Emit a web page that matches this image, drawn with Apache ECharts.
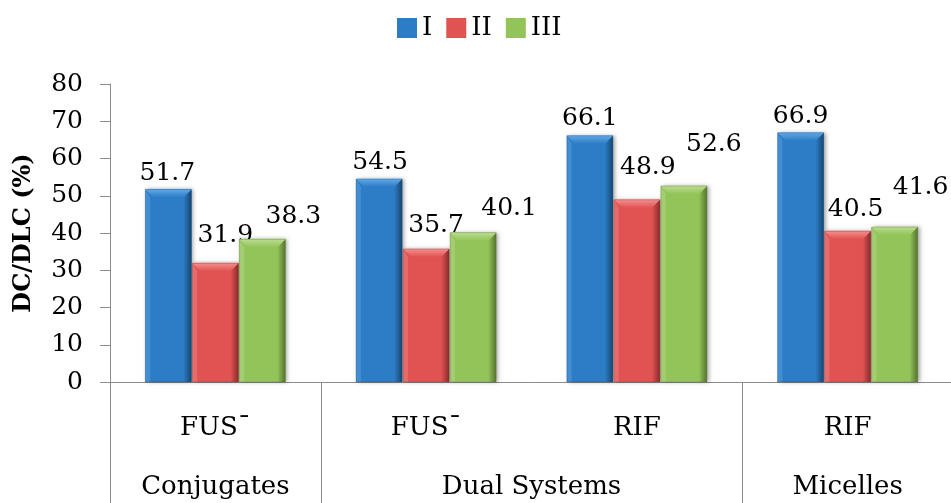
<!DOCTYPE html>
<html>
<head>
<meta charset="utf-8">
<title>DC/DLC</title>
<script src="https://cdn.jsdelivr.net/npm/echarts@6/dist/echarts.min.js"></script>
<style>
  html, body { margin: 0; padding: 0; background: #fff; }
  #chart { width: 951px; height: 503px; }
</style>
</head>
<body>
<div id="chart"></div>
<script>
// Drug content / loading per formulation
const categories = ['FUS\u00AF', 'FUS\u00AF', 'RIF', 'RIF'];
const groupNames = ['Conjugates', 'Dual Systems', 'Micelles'];
const groupSpans = [1, 2, 1];
const seriesNames = ['I', 'II', 'III'];
const valuesI = [51.7, 54.5, 66.1, 66.9];
const valuesII = [31.9, 35.7, 48.9, 40.5];
const valuesIII = [38.3, 40.1, 52.6, 41.6];
const yTicks = [0, 10, 20, 30, 40, 50, 60, 70, 80];

const FONT = 'DejaVu Serif';
const seriesValues = [valuesI, valuesII, valuesIII];

// face colours of the bevelled bars: [base, light, dark]
const palette = [
  ['#2d7cc6', '#62a9e6', '#17476f'],
  ['#e05352', '#f2908f', '#8a2c2c'],
  ['#93c45a', '#bcdc92', '#56732f']
];

// value labels are nudged off the bar tops (dx, dy of the text centre)
const labelNudge = [
  [[-1, -16], [1, -16], [0, -17], [0, -16]],
  [[10, -28], [10, -24], [11, -32], [8, -22]],
  [[31, -23], [36, -24], [30, -42], [26, -40]]
];

// group boundaries and centres along the category axis
const groupEdges = [0];
groupSpans.forEach(s => groupEdges.push(groupEdges[groupEdges.length - 1] + s));
const groupCenters = groupSpans.map((s, i) => groupEdges[i] + s / 2);

function bevelBar(seriesIdx) {
  const [base, light, dark] = palette[seriesIdx];
  return function (params, api) {
    const ci = api.value(0);
    const v = api.value(1);
    const band = api.size([1, 0])[0];
    const step = band * 0.223;
    const top = api.coord([ci, v]);
    const bottom = api.coord([ci, 0]);
    const cx = top[0] + (seriesIdx - 1) * step;
    const w = step - 1;
    const x0 = cx - w / 2, x1 = cx + w / 2;
    const y0 = top[1], y1 = bottom[1];
    const b = 8;
    const nudge = labelNudge[seriesIdx][params.dataIndex];
    return {
      type: 'group',
      children: [
        {
          type: 'rect',
          shape: { x: x0, y: y0, width: w, height: y1 - y0 },
          style: {
            fill: base,
            shadowColor: 'rgba(0,0,0,0.35)', shadowBlur: 4, shadowOffsetX: 2, shadowOffsetY: 0
          }
        },
        {
          type: 'polygon',
          shape: { points: [[x0, y0], [x0 + b * 0.6, y0 + b], [x0 + b * 0.6, y1], [x0, y1]] },
          style: { fill: light, opacity: 0.4 }
        },
        {
          type: 'polygon',
          shape: { points: [[x1, y0], [x1, y1], [x1 - b, y1], [x1 - b, y0 + b]] },
          style: {
            fill: new echarts.graphic.LinearGradient(0, 0, 1, 0, [
              { offset: 0, color: base }, { offset: 1, color: dark }
            ])
          }
        },
        {
          type: 'polygon',
          shape: { points: [[x0, y0], [x1, y0], [x1 - b, y0 + b], [x0 + b, y0 + b]] },
          style: {
            fill: new echarts.graphic.LinearGradient(0, 0, 0, 1, [
              { offset: 0, color: light }, { offset: 1, color: base }
            ])
          }
        },
        {
          type: 'rect',
          shape: { x: x0, y: y0, width: w, height: y1 - y0 },
          style: { fill: 'none', stroke: dark, lineWidth: 0.6, opacity: 0.6 }
        },
        {
          type: 'text',
          x: cx + nudge[0],
          y: y0 + nudge[1],
          style: {
            text: String(v),
            fill: '#000',
            font: '25px "' + FONT + '"',
            align: 'center',
            verticalAlign: 'middle'
          }
        }
      ]
    };
  };
}

const chart = echarts.init(document.getElementById('chart'), null, { renderer: 'canvas' });

const axisGray = '#8c8c8c';

chart.setOption({
  animation: false,
  backgroundColor: '#fff',
  textStyle: { fontFamily: FONT, color: '#000' },
  legend: {
    data: seriesNames,
    left: 392,
    top: 10,
    icon: 'rect',
    itemWidth: 20,
    itemHeight: 20,
    itemGap: 14,
    textStyle: { fontFamily: FONT, fontSize: 26, color: '#000' }
  },
  grid: {
    left: 110,
    top: 84,
    width: 843,
    height: 298,
    outerBoundsMode: 'none'
  },
  xAxis: [
    {
      type: 'category',
      data: categories,
      position: 'bottom',
      axisLine: { lineStyle: { color: axisGray, width: 1 } },
      axisTick: { interval: 0, length: 61, lineStyle: { color: axisGray } },
      axisLabel: { interval: 0, margin: 33, fontFamily: FONT, fontSize: 26, color: '#000' },
      splitLine: { show: false }
    },
    {
      type: 'value',
      min: 0,
      max: groupEdges[groupEdges.length - 1],
      position: 'bottom',
      axisLine: { show: false },
      splitLine: { show: false },
      axisTick: { show: true, customValues: groupEdges, length: 125, lineStyle: { color: axisGray } },
      axisLabel: {
        customValues: groupCenters,
        margin: 92,
        fontFamily: FONT,
        fontSize: 26,
        color: '#000',
        formatter: function (val) {
          const i = groupCenters.findIndex(c => Math.abs(c - val) < 1e-6);
          return i >= 0 ? groupNames[i] : '';
        }
      }
    }
  ],
  yAxis: {
    type: 'value',
    min: yTicks[0],
    max: yTicks[yTicks.length - 1],
    interval: yTicks[1] - yTicks[0],
    name: 'DC/DLC (%)',
    nameLocation: 'middle',
    nameGap: 74,
    nameTextStyle: { fontFamily: FONT, fontSize: 24, fontWeight: 'bold', color: '#000' },
    axisLine: { show: true, lineStyle: { color: axisGray, width: 1 } },
    axisTick: { show: true, length: 10, lineStyle: { color: axisGray } },
    axisLabel: { margin: 27, fontFamily: FONT, fontSize: 25, color: '#000' },
    splitLine: { show: false }
  },
  series: seriesNames.map((name, s) => ({
    name: name,
    type: 'custom',
    xAxisIndex: 0,
    yAxisIndex: 0,
    itemStyle: { color: palette[s][0] },
    encode: { x: 0, y: 1 },
    data: seriesValues[s].map((v, i) => [i, v]),
    renderItem: bevelBar(s)
  }))
});
</script>
</body>
</html>
